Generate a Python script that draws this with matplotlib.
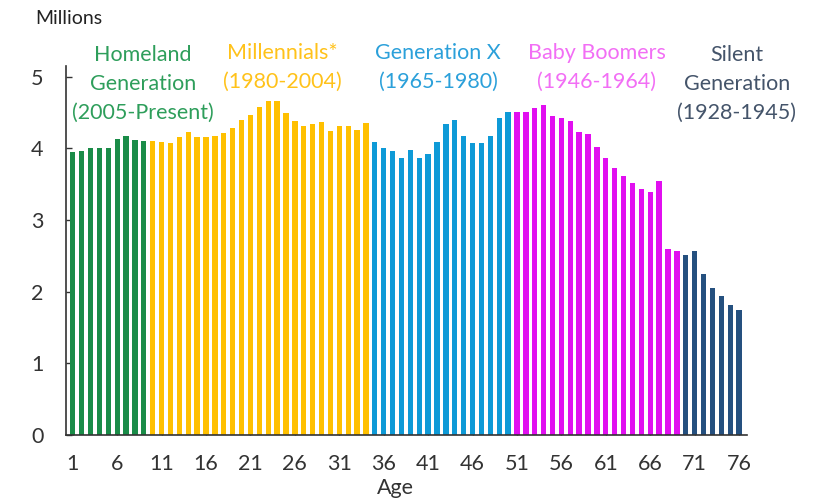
import numpy as np
import matplotlib
matplotlib.use("Agg")
import matplotlib.pyplot as plt

# -----------------------------------------------------------------------------
# Data: US population by single year of age (millions)
# -----------------------------------------------------------------------------
ages = list(range(1, 77))
population = [
    # 1-9 Homeland
    3.95, 3.96, 4.00, 4.00, 4.00, 4.13, 4.17, 4.12, 4.11,
    # 10-34 Millennials
    4.11, 4.09, 4.07, 4.16, 4.23, 4.16, 4.16, 4.17, 4.21, 4.29,
    4.39, 4.46, 4.58, 4.66, 4.66, 4.49, 4.38, 4.31, 4.34, 4.37,
    4.24, 4.31, 4.31, 4.26, 4.36,
    # 35-50 Generation X
    4.09, 4.01, 3.97, 3.86, 3.98, 3.86, 3.92, 4.09, 4.34, 4.39,
    4.17, 4.08, 4.08, 4.17, 4.42, 4.51,
    # 51-69 Baby Boomers
    4.51, 4.51, 4.56, 4.60, 4.45, 4.43, 4.38, 4.23, 4.20, 4.02,
    3.87, 3.73, 3.61, 3.52, 3.43, 3.39, 3.54, 2.60, 2.57,
    # 70-76 Silent
    2.51, 2.57, 2.24, 2.05, 1.94, 1.82, 1.74,
]

gen_names = ["Homeland\nGeneration\n(2005-Present)", "Millennials*\n(1980-2004)",
             "Generation X\n(1965-1980)", "Baby Boomers\n(1946-1964)",
             "Silent\nGeneration\n(1928-1945)"]
gen_first_age = [1, 10, 35, 51, 70]
gen_last_age = [9, 34, 50, 69, 76]
bar_colors = ["#1a8c48", "#ffc000", "#0e9ad7", "#e10ff0", "#25507f"]
text_colors = ["#2e9e5b", "#ffc21a", "#2ba0da", "#f26ef5", "#44546a"]
xticks = list(range(1, 77, 5))

plt.rcParams["font.family"] = ["Lato", "DejaVu Sans"]

fig = plt.figure(figsize=(8.31, 4.98), dpi=100)
ax = fig.add_axes([0.079, 0.1265, 0.82, 0.741])

# -----------------------------------------------------------------------------
# Bars, one colour per generation
# -----------------------------------------------------------------------------
for g in range(len(gen_names)):
    sel = [i for i, a in enumerate(ages) if gen_first_age[g] <= a <= gen_last_age[g]]
    ax.bar([ages[i] for i in sel], [population[i] for i in sel],
           width=0.6, color=bar_colors[g], zorder=2)

ax.set_xlim(0.2, 76.9)
ax.set_ylim(0, 5.15)
ax.set_xticks(xticks)
ax.set_yticks([0, 1, 2, 3, 4, 5])
ax.tick_params(axis="both", direction="in", length=4, width=1,
               labelsize=15.5, colors="#333333")
ax.tick_params(axis="y", pad=16)
ax.tick_params(axis="x", pad=14)
for side in ["top", "right"]:
    ax.spines[side].set_visible(False)
for side in ["left", "bottom"]:
    ax.spines[side].set_color("#333333")
    ax.spines[side].set_linewidth(1.2)

# -----------------------------------------------------------------------------
# Generation labels (figure pixel positions of the first line's centre)
# -----------------------------------------------------------------------------
label_pos = [(143, 57), (282, 55), (438, 55), (597, 55), (737, 57)]
for g, (px, py) in enumerate(label_pos):
    fig.text(px / 831, 1 - (py - 12) / 498, gen_names[g], ha="center", va="top",
             fontsize=15.5, color=text_colors[g], linespacing=1.55)

fig.text(35 / 831, 1 - 19 / 498, "Millions", ha="left", va="center",
         fontsize=14, color="#222222")
fig.text(395 / 831, 1 - 488 / 498, "Age", ha="center", va="center",
         fontsize=15.5, color="#333333")

fig.savefig("out.png", dpi=100)
